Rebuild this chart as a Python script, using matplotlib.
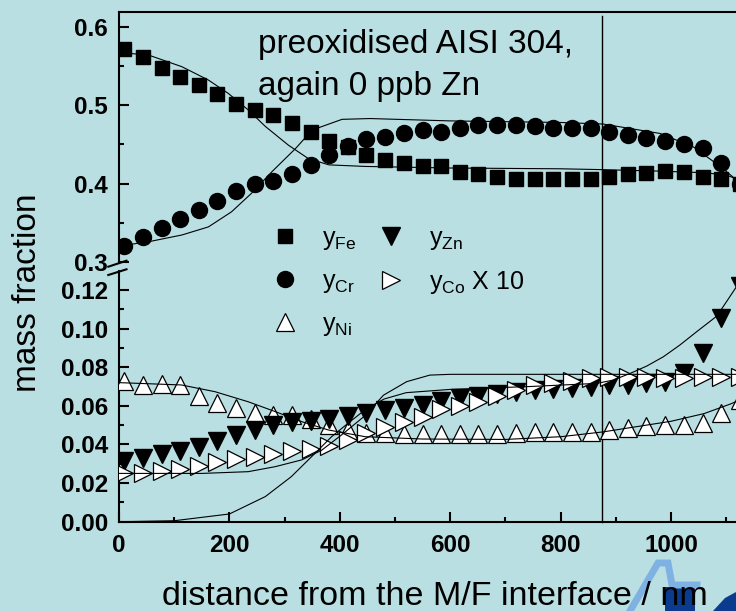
import numpy as np
import matplotlib
matplotlib.use("Agg")
import matplotlib.pyplot as plt
from matplotlib.lines import Line2D
from matplotlib.patches import Polygon
from matplotlib.ticker import MultipleLocator, FormatStrFormatter

plt.rcParams['font.family'] = ['Liberation Sans', 'DejaVu Sans']
plt.rcParams['mathtext.fontset'] = 'custom'
plt.rcParams['mathtext.rm'] = 'Liberation Sans'
plt.rcParams['mathtext.it'] = 'Liberation Sans:italic'

# measured depth of every profile point (nm)
depth = [9, 43, 77, 110, 144, 178, 212, 246, 279, 313, 347, 381, 415, 448, 482, 516, 550,
         584, 617, 651, 685, 719, 753, 786, 820, 854, 888, 922, 955, 989, 1023, 1057, 1091, 1124]

y_fe = [0.571, 0.561, 0.548, 0.536, 0.526, 0.514, 0.502, 0.494, 0.488, 0.477, 0.466, 0.454,
        0.447, 0.436, 0.430, 0.427, 0.423, 0.422, 0.415, 0.412, 0.409, 0.406, 0.406, 0.406,
        0.406, 0.406, 0.409, 0.412, 0.414, 0.416, 0.415, 0.409, 0.406, 0.400]
y_cr = [0.321, 0.332, 0.343, 0.355, 0.367, 0.378, 0.391, 0.399, 0.404, 0.413, 0.424, 0.436,
        0.448, 0.457, 0.459, 0.464, 0.468, 0.466, 0.471, 0.475, 0.475, 0.475, 0.474, 0.471,
        0.471, 0.471, 0.466, 0.462, 0.458, 0.454, 0.450, 0.445, 0.426, 0.400]
y_ni = [0.073, 0.071, 0.0712, 0.071, 0.0651, 0.0617, 0.0587, 0.0562, 0.0555, 0.055, 0.053,
        0.050, 0.0475, 0.046, 0.046, 0.0455, 0.0455, 0.0455, 0.0455, 0.0455, 0.0455, 0.046,
        0.0466, 0.0466, 0.0466, 0.0466, 0.0475, 0.0485, 0.0495, 0.0503, 0.0503, 0.0512,
        0.0561, 0.063]
y_zn = [0.0316, 0.0332, 0.0351, 0.0364, 0.0386, 0.0416, 0.0447, 0.0477, 0.0502, 0.0518,
        0.052, 0.0531, 0.0548, 0.0562, 0.0576, 0.0589, 0.0602, 0.0624, 0.0641, 0.0652, 0.066,
        0.067, 0.068, 0.0686, 0.069, 0.0695, 0.0707, 0.0707, 0.0717, 0.0724, 0.0772, 0.0874,
        0.1054, 0.122]
y_co10 = [0.025, 0.025, 0.0262, 0.0273, 0.0288, 0.031, 0.0323, 0.0337, 0.035, 0.0367, 0.0375,
          0.0392, 0.0423, 0.046, 0.0489, 0.0518, 0.0543, 0.0583, 0.0599, 0.0618, 0.0652,
          0.0682, 0.0706, 0.0716, 0.073, 0.0742, 0.0747, 0.0751, 0.0747, 0.0742, 0.0742,
          0.0747, 0.0747, 0.0747]

# model curves
fe_fit_x = [0, 53, 114, 162, 198, 234, 265, 307, 343, 380, 446, 600, 800, 870, 980, 1060, 1100, 1130]
fe_fit_y = [0.567, 0.564, 0.549, 0.532, 0.515, 0.494, 0.473, 0.449, 0.432, 0.424, 0.422, 0.420,
            0.419, 0.418, 0.416, 0.414, 0.411, 0.403]
cr_fit_x = [0, 53, 114, 162, 204, 240, 277, 320, 350, 404, 455, 600, 800, 877, 980, 1040, 1089, 1118, 1140]
cr_fit_y = [0.3206, 0.326, 0.3347, 0.345, 0.3643, 0.3878, 0.4153, 0.445, 0.4684, 0.482, 0.483,
            0.480, 0.478, 0.476, 0.464, 0.447, 0.422, 0.405, 0.390]
ni_fit_x = [0, 113, 174, 234, 283, 331, 379, 446, 550, 700, 800, 877, 1000, 1060, 1108, 1140]
ni_fit_y = [0.072, 0.0708, 0.0673, 0.0621, 0.057, 0.0518, 0.0475, 0.0440, 0.0428, 0.0426,
            0.0440, 0.0465, 0.0520, 0.0560, 0.0610, 0.0650]
co_fit_x = [0, 150, 234, 283, 331, 367, 403, 446, 479, 521, 563, 600, 1140]
co_fit_y = [0.025, 0.025, 0.0259, 0.0285, 0.032, 0.037, 0.0449, 0.055, 0.0655, 0.0725,
            0.0759, 0.0763, 0.0763]
zn_fit_x = [0, 100, 200, 265, 312, 355, 385, 415, 446, 480, 520, 600, 745, 865, 895, 926,
            956, 986, 1016, 1046, 1083, 1118, 1140]
zn_fit_y = [0.0, 0.0005, 0.004, 0.013, 0.0233, 0.0354, 0.044, 0.051, 0.058, 0.0635, 0.0668,
            0.0685, 0.0700, 0.0716, 0.0733, 0.0768, 0.0806, 0.0854, 0.0915, 0.0983, 0.1065,
            0.1215, 0.133]

interface_x = 874  # M/F interface position (nm)

bg = '#b9dfe2'
W, H = 736, 611


def px_rect(x0, top, x1, bottom):
    return [x0 / W, 1 - bottom / H, (x1 - x0) / W, (bottom - top) / H]


fig = plt.figure(figsize=(W / 100, H / 100), dpi=100)
fig.patch.set_facecolor(bg)

ax_top = fig.add_axes(px_rect(119, 11.7, 760, 263))
ax_bot = fig.add_axes(px_rect(119, 271, 760, 521.7))

for ax in (ax_top, ax_bot):
    ax.set_facecolor(bg)
    ax.set_xlim(0, 1161)
    ax.spines['right'].set_visible(False)
    for s in ax.spines.values():
        s.set_linewidth(1.5)
    ax.tick_params(which='both', direction='in', width=1.5, labelsize=17.5, pad=8)
    ax.tick_params(which='major', length=7)
    ax.tick_params(which='minor', length=3.5)

ax_top.set_ylim(0.299, 0.6191)
ax_top.spines['bottom'].set_visible(False)
ax_top.tick_params(axis='x', which='both', bottom=False, labelbottom=False)
ax_top.yaxis.set_major_locator(MultipleLocator(0.1))
ax_top.yaxis.set_minor_locator(MultipleLocator(0.05))
ax_top.yaxis.set_major_formatter(FormatStrFormatter('%.1f'))

ax_bot.set_ylim(0, 0.1298)
ax_bot.spines['top'].set_visible(False)
ax_bot.xaxis.set_major_locator(MultipleLocator(200))
ax_bot.xaxis.set_minor_locator(MultipleLocator(100))
ax_bot.yaxis.set_major_locator(MultipleLocator(0.02))
ax_bot.yaxis.set_minor_locator(MultipleLocator(0.01))
ax_bot.yaxis.set_major_formatter(FormatStrFormatter('%.2f'))
ax_bot.tick_params(axis='x', pad=9)

for ax in (ax_top, ax_bot):
    for lab in ax.get_xticklabels() + ax.get_yticklabels():
        lab.set_fontweight('bold')

# interface line runs through both panels and the break
ax_bot.axvline(interface_x, ymin=0, ymax=(521.7 - 16) / (521.7 - 271), color='black',
               lw=1.0, zorder=1, clip_on=False)

# upper panel: Fe and Cr
h_fe, = ax_top.plot(depth, y_fe, 's', color='black', ms=9.5, ls='none', zorder=3)
h_cr, = ax_top.plot(depth, y_cr, 'o', color='black', ms=11.5, ls='none', zorder=3)
ax_top.plot(fe_fit_x, fe_fit_y, '-', color='black', lw=0.8, zorder=4)
ax_top.plot(cr_fit_x, cr_fit_y, '-', color='black', lw=0.8, zorder=4)

# lower panel: Ni, Zn, Co x 10
h_ni, = ax_bot.plot(depth, y_ni, '^', mfc='white', mec='black', mew=0.9, ms=13, ls='none', zorder=3)
h_zn, = ax_bot.plot(depth, y_zn, 'v', color='black', ms=13, ls='none', zorder=3)
h_co, = ax_bot.plot(depth, y_co10, '>', mfc='white', mec='black', mew=0.9, ms=13, ls='none', zorder=3)
for fx, fy in ((ni_fit_x, ni_fit_y), (co_fit_x, co_fit_y), (zn_fit_x, zn_fit_y)):
    ax_bot.plot(fx, fy, '-', color='black', lw=0.8, zorder=4)

# axis break marks
for y0, y1 in ((266.7, 260.7), (275, 269.3)):
    fig.add_artist(Line2D([108.3 / W, 126.5 / W], [1 - y0 / H, 1 - y1 / H], color='black', lw=1.5))

# decorative logo corner
fig.add_artist(Polygon([[665 / W, 1 - 587 / H], [695 / W, 1 - 587 / H], [695 / W, 0], [665 / W, 0]],
                       closed=True, color='#0b3b8f', lw=0))
fig.add_artist(Polygon([[713 / W, 0], [725 / W, 1 - 598 / H], [736 / W, 1 - 592 / H], [736 / W, 0]],
                       closed=True, color='#0b3b8f', lw=0))
fig.add_artist(Line2D([630 / W, 658 / W, 668 / W, 672 / W, 697 / W],
                      [0, 1 - 563 / H, 1 - 563 / H, 1 - 585 / H, 1 - 585 / H],
                      color='#7fb2e3', lw=5, solid_joinstyle='miter'))

fig.legend([h_fe, h_cr, h_ni, h_zn, h_co],
           [r'$\mathrm{y}_{\mathrm{Fe}}$', r'$\mathrm{y}_{\mathrm{Cr}}$', r'$\mathrm{y}_{\mathrm{Ni}}$',
            r'$\mathrm{y}_{\mathrm{Zn}}$', r'$\mathrm{y}_{\mathrm{Co}}$ X 10'],
           ncol=2, loc='upper left', bbox_to_anchor=(272 / W, 1 - 226 / H), frameon=False,
           fontsize=18, handlelength=1.0, handletextpad=1.0, columnspacing=0.9,
           labelspacing=0.68, borderpad=0, borderaxespad=0)

fig.text(258 / W, 1 - 53 / H, 'preoxidised AISI 304,', fontsize=24, va='baseline')
fig.text(258 / W, 1 - 95 / H, 'again 0 ppb Zn', fontsize=24, va='baseline')
fig.text(435 / W, 1 - 605 / H, 'distance from the M/F interface / nm', fontsize=24.5,
         ha='center', va='baseline')
fig.text(28 / W, 1 - 293 / H, 'mass fraction', fontsize=24, rotation=90, ha='center', va='center')

fig.savefig('out.png', dpi=100, facecolor=bg)
